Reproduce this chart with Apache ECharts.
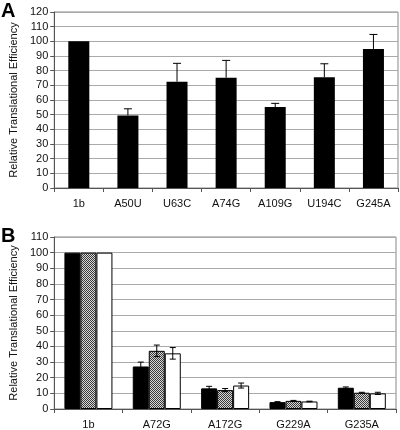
<!DOCTYPE html>
<html>
<head>
<meta charset="utf-8">
<script src="https://cdn.jsdelivr.net/npm/echarts@6/dist/echarts.min.js"></script>
<style>html,body{margin:0;padding:0;background:#fff}#c{width:400px;height:430px}</style>
</head>
<body>
<div id="c"></div>
<script>
// Panel A
var catsA = ['1b', 'A50U', 'U63C', 'A74G', 'A109G', 'U194C', 'G245A'];
var valsA = [100, 49.5, 72.5, 75.2, 55.2, 75.5, 94.8];
var errA  = [0, 4.5, 12.5, 11.8, 2.5, 9.2, 9.9];
var ticksA = [0, 120, 10];

// Panel B
var catsB = ['1b', 'A72G', 'A172G', 'G229A', 'G235A'];
var valsB1 = [100, 27.2, 13.2, 4.4, 13.6];
var errB1  = [0, 2.8, 1.3, 0.3, 0.5];
var valsB2 = [100, 37.2, 12.1, 5.2, 10.4];
var errB2  = [0, 3.7, 1.0, 0.3, 0.3];
var valsB3 = [100, 35.6, 15.0, 4.8, 10.0];
var errB3  = [0, 3.7, 1.6, 0.2, 0.7];
var ticksB = [0, 110, 10];

var FONT = 'Liberation Sans, Arial, sans-serif';

// hatch pattern
var pc = document.createElement('canvas');
pc.width = 4; pc.height = 4;
var g = pc.getContext('2d');
g.fillStyle = '#d8d8d8'; g.fillRect(0, 0, 4, 4);
g.fillStyle = '#3a3a3a';
for (var y = 0; y < 4; y++) for (var x = 0; x < 4; x++) if ((x + y) % 2 === 0) g.fillRect(x, y, 1, 1);
var hatch = { image: pc, repeat: 'repeat' };

var BW = 16;

function errDataA() {
  return catsA.map(function (c, i) { return [i, valsA[i], errA[i]]; }).filter(function (d) { return d[2] > 0; });
}
function errDataB() {
  var out = [];
  [[valsB1, errB1], [valsB2, errB2], [valsB3, errB3]].forEach(function (p, s) {
    catsB.forEach(function (c, i) { if (p[1][i] > 0) out.push([i, p[0][i], p[1][i], s]); });
  });
  return out;
}

var axisTextStyle = { color: '#111', fontSize: 11, fontFamily: FONT };

function yAxis(gi, t) {
  return {
    gridIndex: gi, type: 'value', min: t[0], max: t[1], interval: t[2],
    name: 'Relative Translational Efficiency', nameLocation: 'middle', nameGap: 27,
    nameTextStyle: { color: '#111', fontSize: 11, fontFamily: FONT },
    axisLine: { show: true, lineStyle: { color: '#555', width: 1 } },
    axisTick: { show: true, length: 4, lineStyle: { color: '#555' } },
    axisLabel: Object.assign({ margin: 6 }, axisTextStyle),
    splitLine: { show: true, lineStyle: { color: '#aaa', width: 1 } }
  };
}
function xAxis(gi, cats) {
  return {
    gridIndex: gi, type: 'category', data: cats,
    axisLine: { show: true, lineStyle: { color: '#555', width: 1 } },
    axisTick: { show: true, length: 4, lineStyle: { color: '#555' } },
    axisLabel: Object.assign({ margin: 10 }, axisTextStyle)
  };
}

var option = {
  animation: false,
  backgroundColor: '#fff',
  title: [
    { text: 'A', left: 1, top: 1, textStyle: { fontSize: 20, fontWeight: 'bold', fontFamily: FONT, color: '#000' }, padding: 0 },
    { text: 'B', left: 1, top: 226, textStyle: { fontSize: 20, fontWeight: 'bold', fontFamily: FONT, color: '#000' }, padding: 0 }
  ],
  grid: [
    { left: 43, top: 12, width: 355, height: 176, show: true, borderColor: '#888', borderWidth: 1 },
    { left: 42, top: 237, width: 354, height: 175, show: true, borderColor: '#888', borderWidth: 1 }
  ],
  xAxis: [xAxis(0, catsA), xAxis(1, catsB)],
  yAxis: [yAxis(0, ticksA), yAxis(1, ticksB)],
  series: [
    { type: 'bar', xAxisIndex: 0, yAxisIndex: 0, data: valsA, barWidth: 21, itemStyle: { color: '#000' } },
    {
      type: 'custom', xAxisIndex: 0, yAxisIndex: 0, z: 5, data: errDataA(),
      renderItem: function (params, api) {
        var p0 = api.coord([api.value(0), api.value(1)]);
        var p1 = api.coord([api.value(0), api.value(1) + api.value(2)]);
        var hw = 4;
        return { type: 'group', children: [
          { type: 'line', shape: { x1: p0[0], y1: p0[1], x2: p1[0], y2: p1[1] }, style: { stroke: '#000', lineWidth: 1 } },
          { type: 'line', shape: { x1: p1[0] - hw, y1: p1[1], x2: p1[0] + hw, y2: p1[1] }, style: { stroke: '#000', lineWidth: 1 } }
        ] };
      }
    },
    { type: 'bar', xAxisIndex: 1, yAxisIndex: 1, data: valsB1, barWidth: BW, barGap: '0%', itemStyle: { color: '#000', borderColor: '#000', borderWidth: 1 } },
    { type: 'bar', xAxisIndex: 1, yAxisIndex: 1, data: valsB2, barWidth: BW, barGap: '0%', itemStyle: { color: hatch, borderColor: '#000', borderWidth: 1 } },
    { type: 'bar', xAxisIndex: 1, yAxisIndex: 1, data: valsB3, barWidth: BW, barGap: '0%', itemStyle: { color: '#fff', borderColor: '#000', borderWidth: 1 } },
    {
      type: 'custom', xAxisIndex: 1, yAxisIndex: 1, z: 5, data: errDataB(),
      renderItem: function (params, api) {
        var off = (api.value(3) - 1) * BW;
        var v = api.value(1), e = api.value(2);
        var pt = api.coord([api.value(0), v + e]);
        var pb = api.coord([api.value(0), v - e]);
        var x = pt[0] + off, hw = 3;
        var st = { stroke: '#000', lineWidth: 1 };
        return { type: 'group', children: [
          { type: 'line', shape: { x1: x, y1: pt[1], x2: x, y2: pb[1] }, style: st },
          { type: 'line', shape: { x1: x - hw, y1: pt[1], x2: x + hw, y2: pt[1] }, style: st },
          { type: 'line', shape: { x1: x - hw, y1: pb[1], x2: x + hw, y2: pb[1] }, style: st }
        ] };
      }
    }
  ]
};
var chart = echarts.init(document.getElementById('c'), null, { renderer: 'canvas' });
chart.setOption(option);
</script>
</body>
</html>
